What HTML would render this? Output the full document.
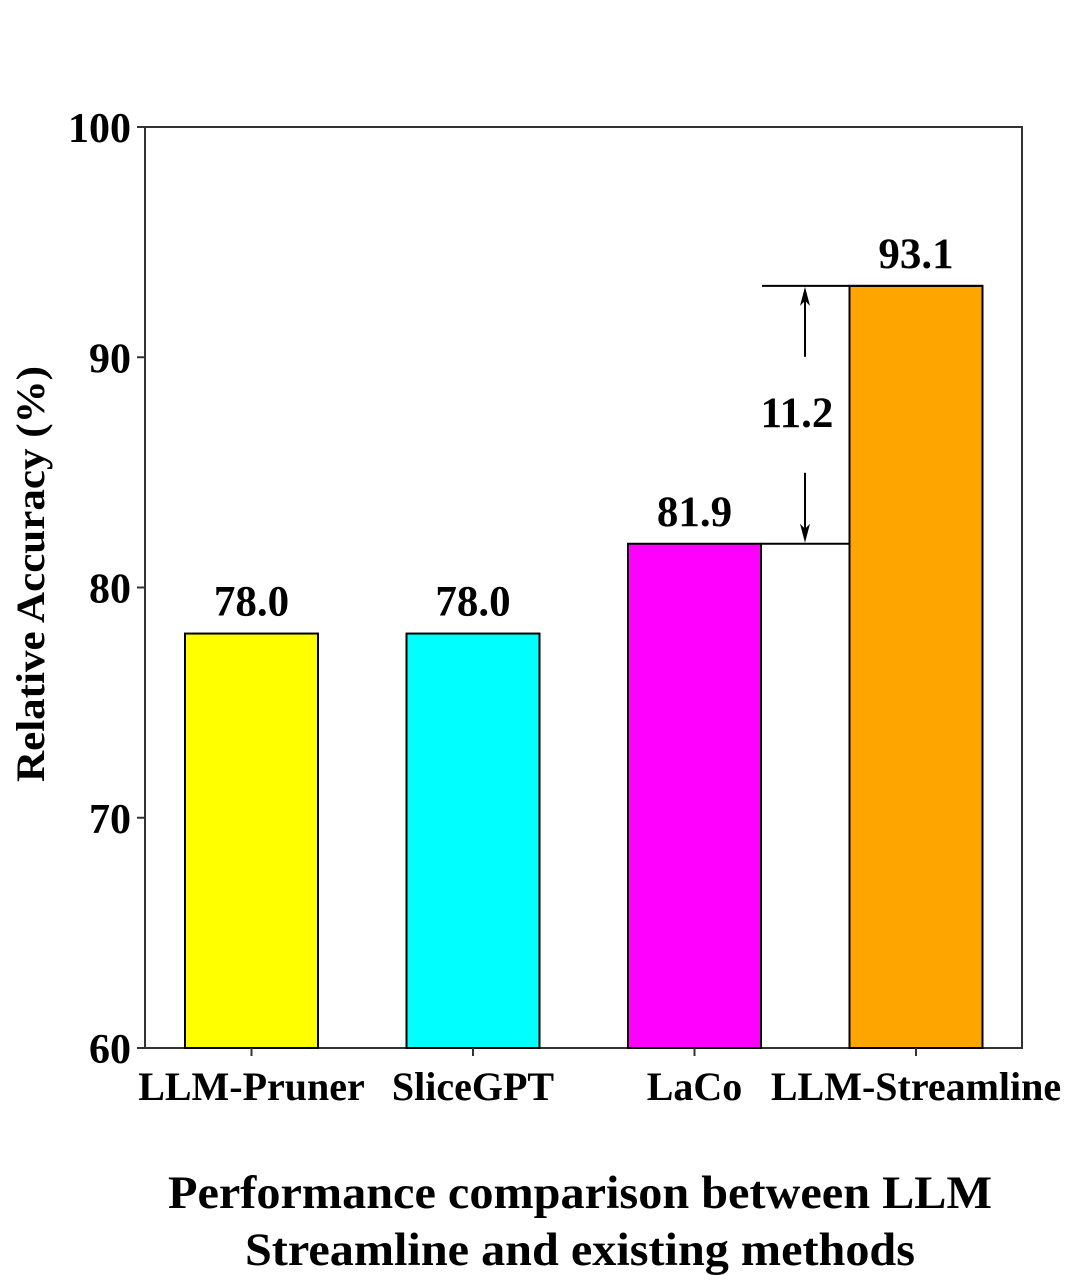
<!DOCTYPE html>
<html><head><meta charset="utf-8"><style>
html,body{margin:0;padding:0;background:#fff;}
svg{display:block;font-family:"Liberation Serif",serif;font-weight:bold;}
</style></head><body>
<svg id="chart" width="1080" height="1288" viewBox="0 0 1080 1288" xmlns="http://www.w3.org/2000/svg">
<g id="plot"></g>
<text transform="translate(44,574) rotate(-90)" text-anchor="middle" font-size="40" textLength="416" lengthAdjust="spacingAndGlyphs">Relative Accuracy (%)</text>
<text x="580" y="1208" text-anchor="middle" font-size="47" textLength="824" lengthAdjust="spacingAndGlyphs">Performance comparison between LLM</text>
<text x="580" y="1265" text-anchor="middle" font-size="47" textLength="670" lengthAdjust="spacingAndGlyphs">Streamline and existing methods</text>
</svg>
<script>
const categories=["LLM-Pruner","SliceGPT","LaCo","LLM-Streamline"];
const values=[78.0,78.0,81.9,93.1];
const valueLabels=["78.0","78.0","81.9","93.1"];
const colors=["#ffff00","#00ffff","#ff00ff","#ffa500"];
const yTicks=[60,70,80,90,100];
const NS="http://www.w3.org/2000/svg";
const L=145,R=1022,T=127,B=1048,ymin=60,ymax=100;
const y=v=>B-(v-ymin)/(ymax-ymin)*(B-T);
const xc=i=>251.5+i*221.5;
const bw=133;
const g=document.getElementById('plot');
function mk(tag,attrs,txt){const e=document.createElementNS(NS,tag);for(const k in attrs)e.setAttribute(k,attrs[k]);if(txt!==undefined)e.textContent=txt;g.appendChild(e);return e;}
let e;
e=mk('rect',{x:L,y:T,width:R-L,height:B-T,fill:'none',stroke:'#333',"stroke-width":2});


yTicks.forEach(t=>{
 e=mk('line',{x1:L-8,x2:L,y1:y(t),y2:y(t),stroke:'#333',"stroke-width":2});
 
 
 e=mk('text',{x:L-14,y:y(t)+15,"text-anchor":'end',"font-size":42},String(t));
 
 
});
categories.forEach((c,i)=>{
 e=mk('rect',{x:xc(i)-bw/2,y:y(values[i]),width:bw,height:B-y(values[i]),fill:colors[i],stroke:'#000',"stroke-width":2});
 
 
 e=mk('line',{x1:xc(i),x2:xc(i),y1:B,y2:B+8,stroke:'#333',"stroke-width":2});
 
 
 e=mk('text',{x:xc(i),y:1100,"text-anchor":'middle',"font-size":40},c);
 
 
 e=mk('text',{x:xc(i),y:y(values[i])-18,"text-anchor":'middle',"font-size":43},valueLabels[i]);
 
 
});
const a=values[2],b=values[3];
const ax=xc(2)+bw/2, bx=xc(3)+bw/2;
e=mk('line',{x1:ax+1,x2:bx,y1:y(b),y2:y(b),stroke:'#000',"stroke-width":2});


e=mk('line',{x1:ax,x2:xc(3)-bw/2,y1:y(a),y2:y(a),stroke:'#000',"stroke-width":2});


const axx=805, mid=(y(a)+y(b))/2;
e=mk('line',{x1:axx,x2:axx,y1:mid-58,y2:y(b)+10,stroke:'#000',"stroke-width":2});


e=mk('path',{d:`M${axx},${y(b)+1} L${axx-5},${y(b)+20} L${axx},${y(b)+15} L${axx+5},${y(b)+20} Z`,fill:'#000'});


e=mk('line',{x1:axx,x2:axx,y1:mid+58,y2:y(a)-10,stroke:'#000',"stroke-width":2});


e=mk('path',{d:`M${axx},${y(a)-1} L${axx-5},${y(a)-20} L${axx},${y(a)-15} L${axx+5},${y(a)-20} Z`,fill:'#000'});


e=mk('text',{x:797,y:mid+12,"text-anchor":'middle',"font-size":43},(b-a).toFixed(1));


</script>
</body></html>
